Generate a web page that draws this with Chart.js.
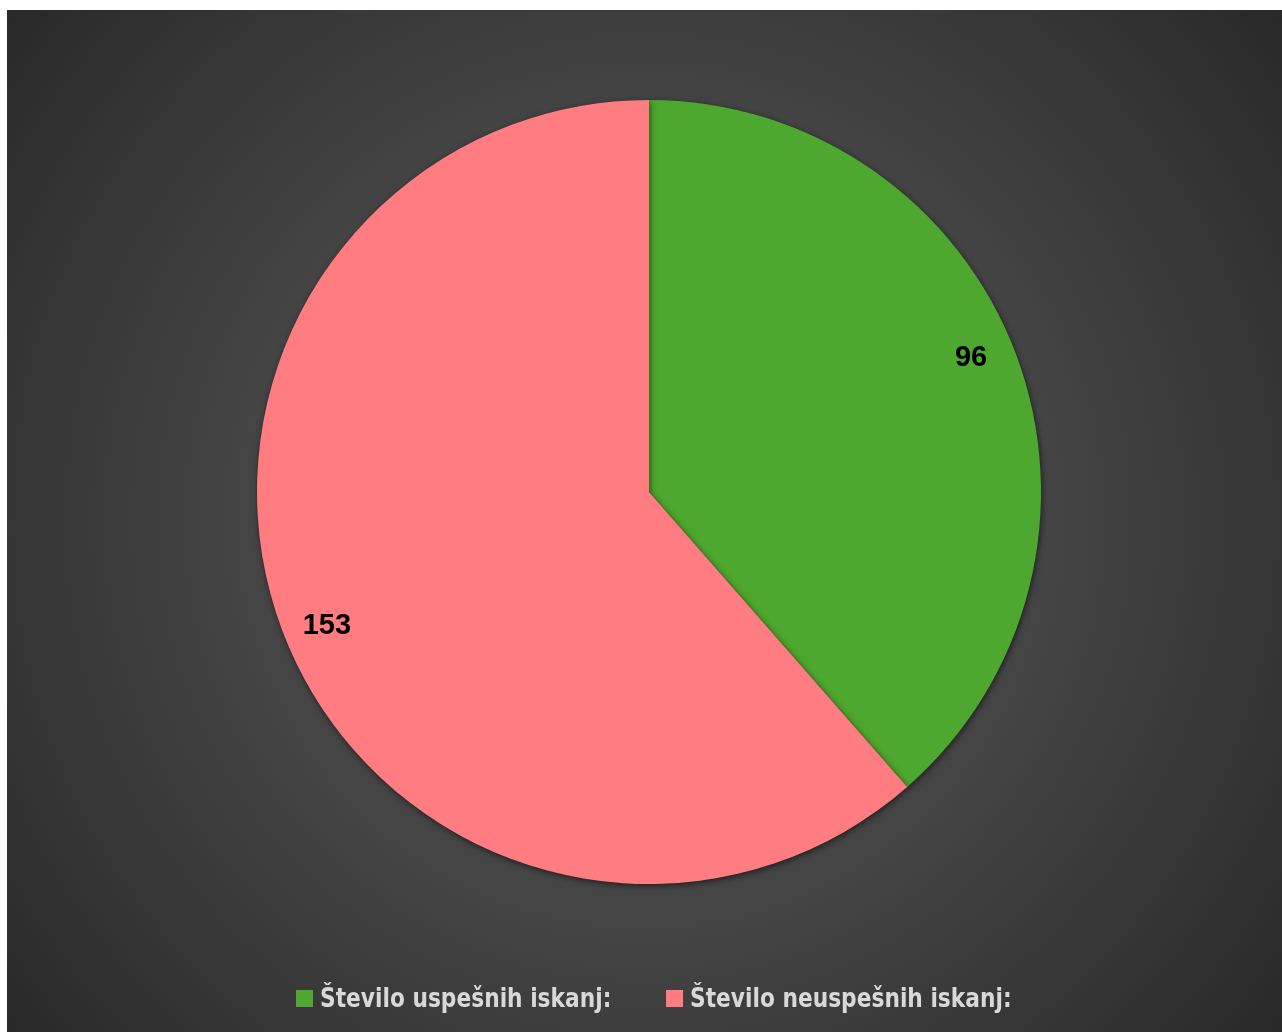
<!DOCTYPE html>
<html>
<head>
<meta charset="utf-8">
<script src="https://cdn.jsdelivr.net/npm/chart.js@4"></script>
<style>
  body { margin: 0; background: #ffffff; }
  #okvir {
    position: absolute; left: 7px; top: 10px; width: 1275px; height: 1022px;
    background: radial-gradient(circle farthest-corner at 50% 50%, #505050 0%, #444444 50%, #292929 100%);
  }
  #graf { position: absolute; left: 0; top: 0; }
  .kvadrat { position: absolute; top: 980px; width: 17px; height: 17px; }
  .besedilo {
    position: absolute; top: 973px; white-space: nowrap; line-height: normal;
    font-family: "DejaVu Sans Condensed", "Liberation Sans Narrow", sans-serif;
    font-weight: bold; font-size: 26px; color: #d9d9d9;
    transform-origin: 0 0; transform: scaleX(0.93);
  }
</style>
</head>
<body>
<div id="okvir">
  <canvas id="graf" width="1275" height="1022"></canvas>
</div>
<script>
const oznake = ["Število uspešnih iskanj:", "Število neuspešnih iskanj:"];
const vrednosti = [96, 153];
const barve = ["#4ea72e", "#ff7c80"];

document.addEventListener("DOMContentLoaded", function () {
  // legenda (levi robovi kvadratkov)
  const okvir = document.getElementById("okvir");
  const zacetki = [289, 659];
  oznake.forEach((oznaka, i) => {
    const kv = document.createElement("span");
    kv.className = "kvadrat";
    kv.style.left = zacetki[i] + "px";
    kv.style.background = barve[i];
    okvir.appendChild(kv);
    const tx = document.createElement("span");
    tx.className = "besedilo";
    tx.style.left = zacetki[i] + 24 + "px";
    tx.textContent = oznaka;
    okvir.appendChild(tx);
  });

  // senca okoli torte
  const senca = {
    id: "senca",
    beforeDatasetsDraw(chart) {
      chart.ctx.save();
      chart.ctx.shadowColor = "rgba(0,0,0,0.55)";
      chart.ctx.shadowBlur = 6;
      chart.ctx.shadowOffsetX = 1;
      chart.ctx.shadowOffsetY = 2;
    },
    afterDatasetsDraw(chart) {
      chart.ctx.restore();
    },
  };

  // oznake podatkov
  const napisi = {
    id: "napisi",
    afterDraw(chart) {
      const ctx = chart.ctx;
      const meta = chart.getDatasetMeta(0);
      ctx.save();
      ctx.font = "bold 29px 'Liberation Sans', Arial, sans-serif";
      ctx.fillStyle = "#000000";
      ctx.textAlign = "center";
      ctx.textBaseline = "middle";
      meta.data.forEach((arc, i) => {
        const p = arc.getProps(["x", "y", "startAngle", "endAngle", "outerRadius"], true);
        const sredina = (p.startAngle + p.endAngle) / 2 - 0.035;
        const r = p.outerRadius * 0.89;
        ctx.fillText(String(chart.data.datasets[0].data[i]), p.x + Math.cos(sredina) * r, p.y + Math.sin(sredina) * r);
      });
      ctx.restore();
    },
  };

  const ctx = document.getElementById("graf").getContext("2d");
  new Chart(ctx, {
    type: "pie",
    data: {
      labels: oznake,
      datasets: [
        {
          data: vrednosti,
          backgroundColor: barve,
          borderWidth: 0,
          hoverOffset: 0,
        },
      ],
    },
    options: {
      responsive: false,
      animation: false,
      layout: { padding: { top: 90, bottom: 148, left: 9, right: 0 } },
      plugins: {
        legend: { display: false },
        tooltip: { enabled: false },
      },
    },
    plugins: [senca, napisi],
  });
});
</script>
</body>
</html>
